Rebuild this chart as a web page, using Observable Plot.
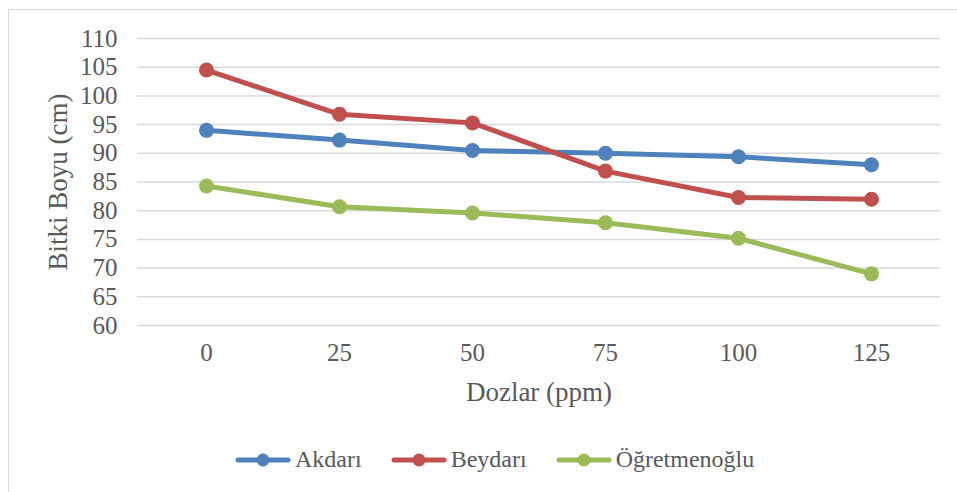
<!DOCTYPE html>
<html>
<head>
<meta charset="utf-8">
<script src="https://cdn.jsdelivr.net/npm/d3@7"></script>
<script src="https://cdn.jsdelivr.net/npm/@observablehq/plot@0.6"></script>
<style>
  html, body { margin: 0; padding: 0; background: #fff; }
  #wrap { position: relative; width: 957px; height: 492px; overflow: hidden; font-family: "Liberation Serif", "Times New Roman", serif; color: #595959; }
  #border { position: absolute; left: 8px; top: 9px; width: 1000px; height: 600px; border: 1.5px solid #d9d9d9; box-sizing: border-box; }
  #chart { position: absolute; left: 0; top: 0; }
  #legend { position: absolute; left: 235px; top: 446px; display: flex; align-items: center; font-family: "Liberation Serif", "Times New Roman", serif; font-size: 24px; }
  .item { display: flex; align-items: center; margin-right: 29px; }
  .item svg { margin-right: 4px; }
  .item span { font-family: "Liberation Serif", "Times New Roman", serif; }
</style>
</head>
<body>
<div id="wrap">
  <div id="border"></div>
  <div id="chart"></div>
  <div id="legend"></div>
</div>
<script>
// Plant height (cm) by dose (ppm) for three varieties
const doses = [0, 25, 50, 75, 100, 125];
const seriesNames = ["Akdarı", "Beydarı", "Öğretmenoğlu"];
const akdari = [94.0, 92.3, 90.5, 90.0, 89.4, 88.0];
const beydari = [104.5, 96.8, 95.3, 86.9, 82.3, 82.0];
const ogretmenoglu = [84.3, 80.7, 79.6, 77.9, 75.2, 69.0];
const yTicks = [60, 65, 70, 75, 80, 85, 90, 95, 100, 105, 110];
const colors = ["#4f81bd", "#c0504d", "#9bbb59"];

const rows = [akdari, beydari, ogretmenoglu].flatMap((vals, i) =>
  vals.map((v, j) => ({series: seriesNames[i], dose: doses[j], value: v}))
);

const serif = "'Liberation Serif', 'Times New Roman', serif";

const chart = Plot.plot({
  width: 957,
  height: 420,
  marginTop: 38,
  marginBottom: 95,
  marginLeft: 137,
  marginRight: 17,
  style: {fontFamily: serif, fontSize: "25px", color: "#595959", background: "transparent"},
  x: {type: "point", domain: doses, padding: 0.5},
  y: {domain: [60, 110]},
  color: {domain: seriesNames, range: colors},
  marks: [
    Plot.gridY(yTicks, {stroke: "#d9d9d9", strokeOpacity: 1, strokeWidth: 1.5}),
    Plot.axisY(yTicks, {tickSize: 0, tickPadding: 20, label: null, fontSize: 25, fontFamily: serif}),
    Plot.axisX(doses, {tickSize: 0, tickPadding: 18, label: null, fontSize: 25, fontFamily: serif}),
    Plot.line(rows, {x: "dose", y: "value", z: "series", stroke: "series", strokeWidth: 5, strokeLinejoin: "round", strokeLinecap: "round"}),
    Plot.dot(rows, {x: "dose", y: "value", fill: "series", r: 7.5, stroke: null}),
    Plot.text(["Dozlar (ppm)"], {frameAnchor: "bottom", dy: 67, lineAnchor: "middle", textAnchor: "middle", fontSize: 27, fontFamily: serif, fill: "#595959"}),
    Plot.text(["Bitki Boyu (cm)"], {frameAnchor: "left", dx: -79, rotate: -90, lineAnchor: "middle", textAnchor: "middle", fontSize: 27, fontFamily: serif, fill: "#595959"})
  ]
});
document.getElementById("chart").appendChild(chart);

// Legend
const legend = document.getElementById("legend");
seriesNames.forEach((name, i) => {
  const item = document.createElement("div");
  item.className = "item";
  item.innerHTML =
    `<svg width="56" height="16"><line x1="3" y1="8" x2="53" y2="8" stroke="${colors[i]}" stroke-width="5" stroke-linecap="round"/>` +
    `<circle cx="28" cy="8" r="6.5" fill="${colors[i]}"/></svg><span>${name}</span>`;
  legend.appendChild(item);
});
</script>
</body>
</html>
